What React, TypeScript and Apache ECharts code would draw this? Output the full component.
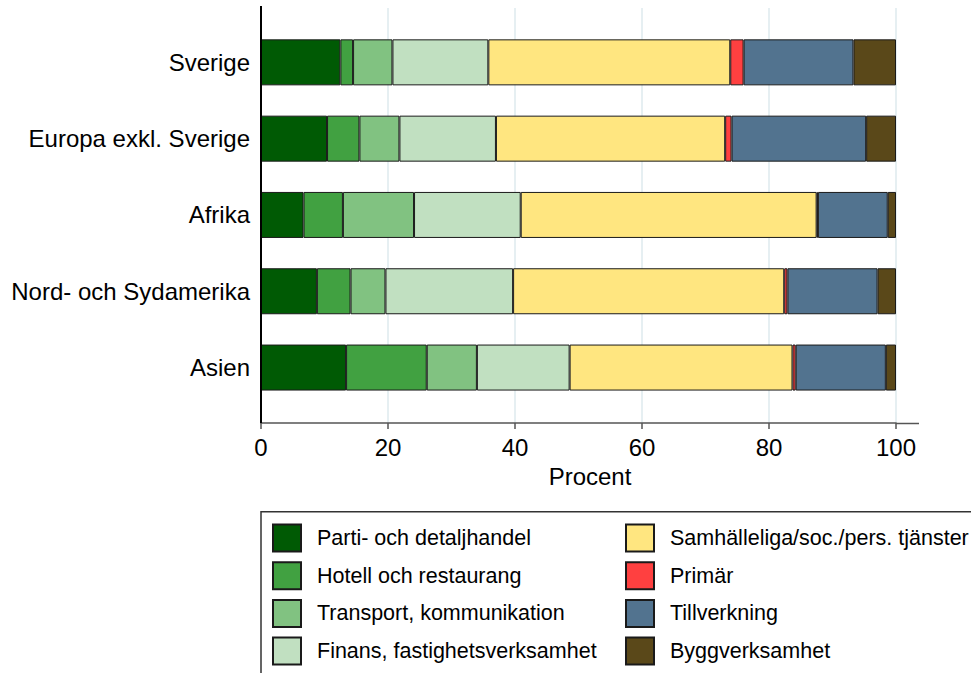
import React, { useEffect, useRef } from "react";
import * as echarts from "echarts";

const categories = ["Sverige", "Europa exkl. Sverige", "Afrika", "Nord- och Sydamerika", "Asien"];
const seriesNames = [
  "Parti- och detaljhandel",
  "Hotell och restaurang",
  "Transport, kommunikation",
  "Finans, fastighetsverksamhet",
  "Samhälleliga/soc./pers. tjänster",
  "Primär",
  "Tillverkning",
  "Byggverksamhet",
];
const parti = [12.5, 10.4, 6.7, 8.8, 13.4];
const hotell = [2.0, 5.1, 6.2, 5.3, 12.7];
const transport = [6.2, 6.3, 11.2, 5.5, 7.9];
const finans = [15.1, 15.2, 16.8, 20.1, 14.6];
const samhalle = [38.1, 36.1, 46.6, 42.7, 35.1];
const primar = [2.1, 1.0, 0.2, 0.5, 0.5];
const tillverkning = [17.3, 21.2, 11.0, 14.2, 14.2];
const bygg = [6.7, 4.7, 1.3, 2.9, 1.6];
const seriesValues = [parti, hotell, transport, finans, samhalle, primar, tillverkning, bygg];
const colors = ["#005a04", "#41a141", "#81c281", "#c1e0c1", "#ffe680", "#ff4040", "#52738f", "#5a4819"];

const FONT = "'Liberation Sans', Arial, Helvetica, sans-serif";

export default function App() {
  const ref = useRef<HTMLDivElement>(null);
  useEffect(() => {
    if (!ref.current) return;
    const chart = echarts.init(ref.current, null, { renderer: "svg" });
    const legendCommon = {
      orient: "vertical" as const,
      top: 523.5,
      itemWidth: 28,
      itemHeight: 27,
      itemGap: 8.7,
      padding: 0,
      icon: "rect",
      selectedMode: false,
      textStyle: { fontSize: 21.5, lineHeight: 24, color: "#000", fontFamily: FONT, padding: [0, 0, 0, 11] },
    };
    chart.setOption({
      animation: false,
      backgroundColor: "#fff",
      textStyle: { fontFamily: FONT },
      grid: [
        { left: 261, top: 8, width: 635, height: 415 },
        { left: 261, top: 24.2, width: 635, height: 381.5 },
      ],
      xAxis: [
        {
          gridIndex: 0,
          type: "value",
          min: 0,
          max: 100,
          interval: 20,
          axisLine: { show: false },
          axisTick: { show: false },
          axisLabel: { show: false },
          splitLine: { show: true, lineStyle: { color: "#e6eff2", width: 2 } },
        },
        {
          gridIndex: 1,
          type: "value",
          min: 0,
          max: 100,
          interval: 20,
          offset: 17.3,
          axisLine: { show: true, lineStyle: { color: "#555", width: 1.5 } },
          axisTick: { show: true, length: 6, lineStyle: { color: "#555", width: 1.5 } },
          axisLabel: { fontSize: 24, color: "#000", margin: 12, fontFamily: FONT },
          splitLine: { show: false },
          name: "Procent",
          nameLocation: "middle",
          nameGap: 41,
          nameTextStyle: { fontSize: 24, color: "#000", fontFamily: FONT, padding: [0, 0, 0, 23] },
        },
      ],
      yAxis: [
        { gridIndex: 0, type: "value", min: 0, max: 1, show: false },
        {
          gridIndex: 1,
          type: "category",
          inverse: true,
          data: categories,
          axisLine: { show: false },
          axisTick: { show: false },
          axisLabel: { fontSize: 24, color: "#000", margin: 11, fontFamily: FONT },
        },
      ],
      legend: [
        { ...legendCommon, left: 272, data: seriesNames.slice(0, 4) },
        { ...legendCommon, left: 625, data: seriesNames.slice(4) },
      ],
      series: seriesNames.map((name, i) => ({
        name,
        type: "bar",
        stack: "total",
        xAxisIndex: 1,
        yAxisIndex: 1,
        barWidth: 46,
        data: seriesValues[i],
        itemStyle: { color: colors[i], borderColor: "#1a1a1a", borderWidth: 1 },
      })),
      graphic: [
        { type: "line", shape: { x1: 261, y1: 6, x2: 261, y2: 423 }, style: { stroke: "#000", lineWidth: 2 }, z: 10 },
        { type: "line", shape: { x1: 896, y1: 423.5, x2: 919, y2: 423.5 }, style: { stroke: "#555", lineWidth: 1.5 }, z: 10 },
        { type: "rect", shape: { x: 261, y: 511.7, width: 720, height: 200 }, style: { fill: "none", stroke: "#333", lineWidth: 1.5 }, z: 10 },
      ],
    });
    return () => chart.dispose();
  }, []);
  return <div ref={ref} style={{ position: "fixed", left: 0, top: 0, width: 971, height: 673 }} />;
}
